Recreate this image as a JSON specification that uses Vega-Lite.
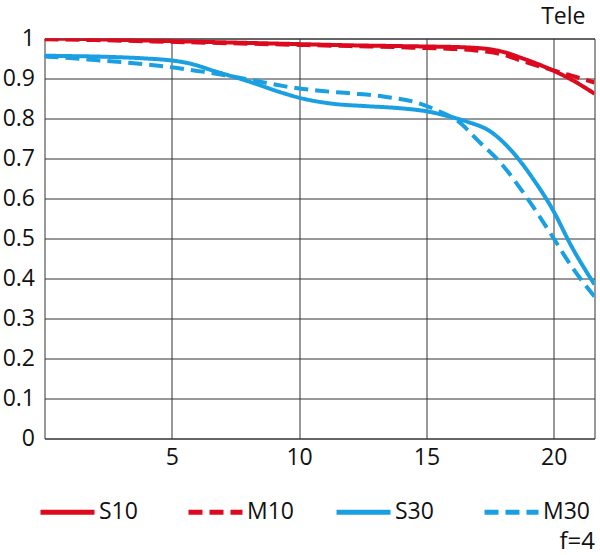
{
  "$schema": "https://vega.github.io/schema/vega-lite/v6.json",
  "width": 550,
  "height": 400,
  "autosize": "none",
  "padding": {"left": 44.5, "top": 38.5, "right": 5.5, "bottom": 116.5},
  "background": "white",
  "title": {"text": "Tele", "anchor": "end", "frame": "group", "fontSize": 23, "fontWeight": "normal", "font": "Open Sans", "color": "#111", "baseline": "alphabetic", "offset": -19, "dx": -9},
  "config": {
    "view": {"stroke": "#333", "strokeWidth": 1},
    "axis": {"labelFont": "Open Sans", "labelFontSize": 23, "labelColor": "#111", "gridColor": "#333", "gridWidth": 1, "gridOpacity": 1, "domain": false, "ticks": false}
  },
  "data": {"values": [
    {"s": "S10", "x": 0, "y": 1.0}, {"s": "S10", "x": 2, "y": 0.998}, {"s": "S10", "x": 4, "y": 0.995}, {"s": "S10", "x": 6, "y": 0.992}, {"s": "S10", "x": 8, "y": 0.989}, {"s": "S10", "x": 10, "y": 0.986}, {"s": "S10", "x": 12, "y": 0.983}, {"s": "S10", "x": 14, "y": 0.981}, {"s": "S10", "x": 15, "y": 0.98}, {"s": "S10", "x": 16, "y": 0.979}, {"s": "S10", "x": 16.8, "y": 0.977}, {"s": "S10", "x": 17.5, "y": 0.973}, {"s": "S10", "x": 18.1, "y": 0.965}, {"s": "S10", "x": 18.7, "y": 0.952}, {"s": "S10", "x": 19.3, "y": 0.938}, {"s": "S10", "x": 19.9, "y": 0.922}, {"s": "S10", "x": 20.7, "y": 0.897}, {"s": "S10", "x": 21.6, "y": 0.862},
    {"s": "M10", "x": 0, "y": 0.998}, {"s": "M10", "x": 2, "y": 0.996}, {"s": "M10", "x": 4, "y": 0.993}, {"s": "M10", "x": 6, "y": 0.99}, {"s": "M10", "x": 8, "y": 0.987}, {"s": "M10", "x": 10, "y": 0.984}, {"s": "M10", "x": 12, "y": 0.981}, {"s": "M10", "x": 14, "y": 0.978}, {"s": "M10", "x": 15, "y": 0.976}, {"s": "M10", "x": 16, "y": 0.974}, {"s": "M10", "x": 16.8, "y": 0.971}, {"s": "M10", "x": 17.5, "y": 0.966}, {"s": "M10", "x": 18.1, "y": 0.958}, {"s": "M10", "x": 18.7, "y": 0.945}, {"s": "M10", "x": 19.3, "y": 0.933}, {"s": "M10", "x": 19.9, "y": 0.922}, {"s": "M10", "x": 20.7, "y": 0.907}, {"s": "M10", "x": 21.6, "y": 0.89},
    {"s": "S30", "x": 0, "y": 0.957}, {"s": "S30", "x": 1, "y": 0.956}, {"s": "S30", "x": 2, "y": 0.955}, {"s": "S30", "x": 3, "y": 0.953}, {"s": "S30", "x": 4, "y": 0.95}, {"s": "S30", "x": 5, "y": 0.945}, {"s": "S30", "x": 5.6, "y": 0.939}, {"s": "S30", "x": 6.75, "y": 0.917}, {"s": "S30", "x": 8, "y": 0.893}, {"s": "S30", "x": 9.4, "y": 0.863}, {"s": "S30", "x": 10, "y": 0.852}, {"s": "S30", "x": 11.3, "y": 0.837}, {"s": "S30", "x": 12.6, "y": 0.831}, {"s": "S30", "x": 13.9, "y": 0.826}, {"s": "S30", "x": 15, "y": 0.818}, {"s": "S30", "x": 15.9, "y": 0.805}, {"s": "S30", "x": 16.6, "y": 0.792}, {"s": "S30", "x": 17.5, "y": 0.768}, {"s": "S30", "x": 18.4, "y": 0.715}, {"s": "S30", "x": 19.2, "y": 0.648}, {"s": "S30", "x": 19.95, "y": 0.573}, {"s": "S30", "x": 20.7, "y": 0.48}, {"s": "S30", "x": 21.6, "y": 0.385},
    {"s": "M30", "x": 0, "y": 0.955}, {"s": "M30", "x": 1, "y": 0.951}, {"s": "M30", "x": 2, "y": 0.946}, {"s": "M30", "x": 3, "y": 0.941}, {"s": "M30", "x": 4, "y": 0.935}, {"s": "M30", "x": 5, "y": 0.928}, {"s": "M30", "x": 6, "y": 0.919}, {"s": "M30", "x": 6.75, "y": 0.912}, {"s": "M30", "x": 8, "y": 0.898}, {"s": "M30", "x": 9.4, "y": 0.881}, {"s": "M30", "x": 10.7, "y": 0.87}, {"s": "M30", "x": 12, "y": 0.863}, {"s": "M30", "x": 13.3, "y": 0.855}, {"s": "M30", "x": 14.6, "y": 0.84}, {"s": "M30", "x": 15.5, "y": 0.818}, {"s": "M30", "x": 16.2, "y": 0.795}, {"s": "M30", "x": 17.1, "y": 0.74}, {"s": "M30", "x": 17.9, "y": 0.69}, {"s": "M30", "x": 18.9, "y": 0.606}, {"s": "M30", "x": 19.95, "y": 0.505}, {"s": "M30", "x": 20.7, "y": 0.43}, {"s": "M30", "x": 21.6, "y": 0.355}
  ]},
  "mark": {"type": "line", "strokeWidth": 4, "interpolate": "monotone", "clip": true},
  "encoding": {
    "x": {"field": "x", "type": "quantitative", "scale": {"domain": [0, 21.6], "nice": false, "zero": false},
      "axis": {"values": [5, 10, 15, 20], "labelPadding": 8, "title": "f=4", "titleFont": "Open Sans", "titleFontSize": 24, "titleFontWeight": "normal", "titleColor": "#111", "titleAnchor": "end", "titleAlign": "right", "titleBaseline": "alphabetic", "titleX": 550, "titleY": 110}},
    "y": {"field": "y", "type": "quantitative", "scale": {"domain": [0, 1], "nice": false},
      "axis": {"values": [0, 0.1, 0.2, 0.3, 0.4, 0.5, 0.6, 0.7, 0.8, 0.9, 1], "format": "~g", "labelPadding": 10, "title": null}},
    "color": {"field": "s", "type": "nominal", "scale": {"domain": ["S10", "M10", "S30", "M30"], "range": ["#dc0a1e", "#dc0a1e", "#1aa0e2", "#1aa0e2"]},
      "legend": {"title": null, "orient": "none", "legendX": -6.5, "legendY": 444, "direction": "horizontal", "columns": 4, "gridAlign": "all", "columnPadding": 32, "padding": 0, "symbolType": "stroke", "symbolSize": 2916, "symbolStrokeWidth": 5, "labelFont": "Open Sans", "labelFontSize": 23, "labelColor": "#111", "labelOffset": 2}},
    "strokeDash": {"field": "s", "type": "nominal", "scale": {"domain": ["S10", "M10", "S30", "M30"], "range": [[1, 0], [14, 7], [1, 0], [14, 7]]}, "legend": null}
  }
}
